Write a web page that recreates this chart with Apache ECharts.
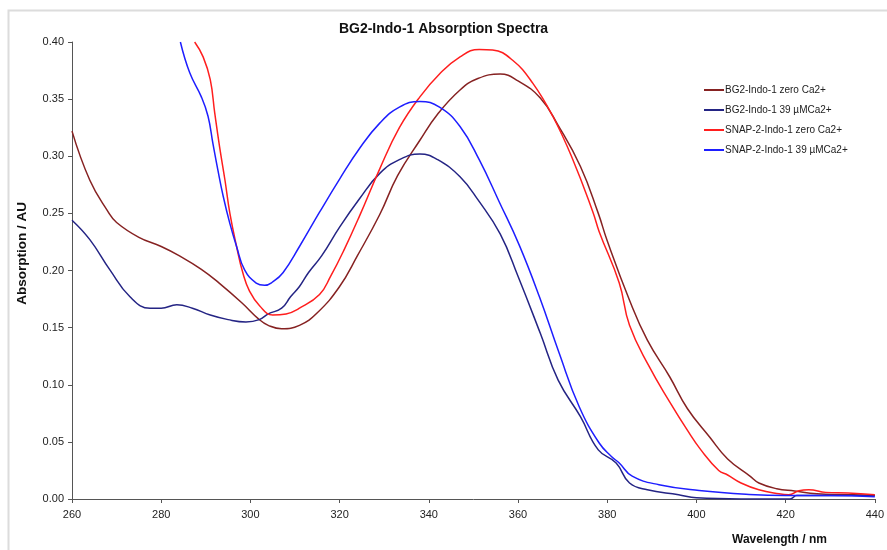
<!DOCTYPE html>
<html>
<head>
<meta charset="utf-8">
<script src="https://cdn.jsdelivr.net/npm/echarts@6/dist/echarts.min.js"></script>
<style>
  html, body { margin: 0; padding: 0; background: #fff; }
  #chart { width: 887px; height: 550px; }
</style>
</head>
<body>
<div id="chart"></div>
<script>
// wavelength (nm) and absorption, per trace
const bg2ZeroNm  = [260, 264, 268, 270, 275, 280, 284, 289, 293, 298, 302, 304, 307, 311, 315, 320, 324, 329, 333, 338, 342, 347, 351, 356, 360, 365, 369, 374, 378, 380, 385, 389, 394, 398, 403, 407, 412, 414, 418, 422, 427, 434, 440];
const bg2ZeroAbs = [0.322, 0.279, 0.252, 0.242, 0.229, 0.221, 0.213, 0.201, 0.189, 0.172, 0.157, 0.152, 0.149, 0.152, 0.163, 0.186, 0.213, 0.249, 0.283, 0.314, 0.337, 0.358, 0.368, 0.372, 0.366, 0.351, 0.327, 0.291, 0.250, 0.226, 0.174, 0.139, 0.107, 0.079, 0.054, 0.035, 0.020, 0.014, 0.009, 0.007, 0.0046, 0.0038, 0.003];

const bg2CaNm  = [260, 264, 268.5, 273, 277.5, 280, 283.5, 287, 291, 295, 299, 302, 304, 307, 309, 311, 313, 316, 320, 324.5, 329, 333.4, 338, 342, 347, 351, 356, 360, 365, 369, 374, 378, 382, 385, 389, 396, 400, 410, 421, 422.5, 430, 440];
const bg2CaAbs = [0.244, 0.227, 0.2005, 0.177, 0.167, 0.167, 0.170, 0.167, 0.161, 0.157, 0.155, 0.157, 0.162, 0.167, 0.177, 0.186, 0.198, 0.213, 0.238, 0.263, 0.285, 0.297, 0.302, 0.297, 0.282, 0.262, 0.232, 0.195, 0.145, 0.104, 0.072, 0.043, 0.0315, 0.014, 0.0081, 0.0038, 0.001, 0.0, 0.0, 0.003, 0.003, 0.003];

const snapZeroNm  = [287.5, 289.4, 291, 292, 293.1, 294.3, 295.4, 296.9, 298.3, 299.8, 302.1, 305, 308, 311, 315.5, 318, 321, 324.5, 329, 333.4, 338, 342.4, 347, 351.3, 354.3, 358.8, 363.3, 367.8, 372.3, 376.8, 378.2, 382.7, 385, 389.4, 394, 398, 401, 405, 407, 410, 414, 418.5, 420.7, 423, 425.2, 429, 434, 440];
const snapZeroAbs = [0.400, 0.387, 0.367, 0.338, 0.308, 0.279, 0.250, 0.221, 0.198, 0.182, 0.169, 0.161, 0.162, 0.167, 0.179, 0.195, 0.218, 0.248, 0.289, 0.325, 0.352, 0.372, 0.387, 0.3935, 0.393, 0.384, 0.364, 0.335, 0.297, 0.251, 0.234, 0.189, 0.152, 0.116, 0.085, 0.060, 0.043, 0.025, 0.021, 0.014, 0.0081, 0.0046, 0.0038, 0.0073, 0.0081, 0.0058, 0.0052, 0.0038];

const snapCaNm  = [284.3, 286.4, 289, 290.5, 291.6, 292.7, 293.9, 295.4, 296.9, 298.7, 301.3, 303.2, 305, 307.3, 311, 315.5, 320, 324.5, 329, 333.4, 338, 342.4, 347, 351.3, 355.8, 360.3, 364.8, 369.2, 373.7, 378.2, 381, 382.7, 385.6, 391.6, 400.6, 411.8, 420, 430, 440];
const snapCaAbs = [0.400, 0.373, 0.352, 0.335, 0.311, 0.288, 0.265, 0.241, 0.221, 0.2005, 0.189, 0.187, 0.190, 0.198, 0.221, 0.251, 0.280, 0.307, 0.329, 0.343, 0.348, 0.343, 0.326, 0.297, 0.260, 0.222, 0.177, 0.128, 0.081, 0.049, 0.037, 0.0315, 0.020, 0.0125, 0.0075, 0.004, 0.003, 0.003, 0.002];

const seriesNames = ['BG2-Indo-1 zero Ca2+', 'BG2-Indo-1 39 µMCa2+', 'SNAP-2-Indo-1 zero Ca2+', 'SNAP-2-Indo-1 39 µMCa2+'];
const seriesColors = ['#862222', '#242484', '#ff1e1e', '#1e1eff'];

function pairs(xs, ys) {
  return xs.map((x, i) => [x, ys[i]]);
}

const traces = [
  pairs(bg2ZeroNm, bg2ZeroAbs),
  pairs(bg2CaNm, bg2CaAbs),
  pairs(snapZeroNm, snapZeroAbs),
  pairs(snapCaNm, snapCaAbs)
];

const chart = echarts.init(document.getElementById('chart'));
const font = '"Liberation Sans", Arial, sans-serif';

chart.setOption({
  animation: false,
  textStyle: { fontFamily: font },
  title: {
    text: 'BG2-Indo-1 Absorption Spectra',
    left: 'center',
    top: 17,
    textStyle: { fontSize: 14, fontWeight: 'bold', color: '#111', fontFamily: font }
  },
  legend: {
    orient: 'vertical',
    left: 699,
    top: 79,
    icon: 'rect',
    itemWidth: 20,
    itemHeight: 2,
    itemGap: 8,
    textStyle: { fontSize: 10, color: '#222', fontFamily: font, padding: [0, 0, 0, -4], lineHeight: 12 },
    data: seriesNames
  },
  grid: { left: 72, right: 11, top: 42, bottom: 51 },
  xAxis: {
    type: 'value',
    min: 260,
    max: 440,
    interval: 20,
    axisLine: { lineStyle: { color: '#555', width: 1 } },
    axisTick: { length: 4, lineStyle: { color: '#555' } },
    axisLabel: { fontSize: 11, color: '#222', margin: 10 },
    splitLine: { show: false }
  },
  yAxis: {
    type: 'value',
    min: 0,
    max: 0.4,
    interval: 0.05,
    axisLine: { show: true, lineStyle: { color: '#555', width: 1 } },
    axisTick: { show: true, length: 4, lineStyle: { color: '#555' } },
    axisLabel: { fontSize: 11, color: '#222', margin: 8, formatter: v => v.toFixed(2) },
    splitLine: { show: false }
  },
  graphic: [
    {
      type: 'rect',
      silent: true,
      z: -10,
      shape: { x: 8.5, y: 10.5, width: 900, height: 560 },
      style: { fill: 'none', stroke: '#dcdcdc', lineWidth: 2 }
    },
    {
      type: 'text',
      left: 15,
      top: 202,
      rotation: Math.PI / 2,
      style: { text: 'Absorption / AU', font: 'bold 13.5px ' + font, fill: '#111' }
    },
    {
      type: 'text',
      left: 732,
      top: 534,
      style: { text: 'Wavelength / nm', font: 'bold 12px ' + font, fill: '#111' }
    }
  ],
  series: traces.map((d, i) => ({
    name: seriesNames[i],
    type: 'line',
    data: d,
    symbol: 'none',
    smooth: 0.45,
    lineStyle: { color: seriesColors[i], width: 1.5 },
    itemStyle: { color: seriesColors[i] }
  }))
});
</script>
</body>
</html>
